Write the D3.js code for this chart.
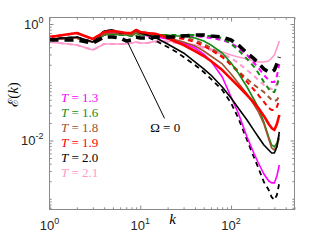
<!DOCTYPE html>
<html>
<head>
<meta charset="utf-8">
<script src="https://cdn.jsdelivr.net/npm/d3@7"></script>
<style>
body { margin: 0; background: #fff; }
svg { display: block; }
</style>
</head>
<body>
<svg id="chart"></svg>
<script>
// wavenumbers k
const k_vals = [1, 2, 3, 4, 5, 6, 7, 8, 9, 10, 12, 15, 20, 25, 30, 40, 50, 60, 80, 100,
		120, 150, 180, 200, 230, 260, 280, 300, 320, 340];

// E(k), solid curves
const e13_solid = [0.553, 0.575, 0.491, 0.701, 0.729, 0.701, 0.674, 0.674, 0.729, 0.674,
		   0.622, 0.598, 0.553, 0.511, 0.472, 0.387, 0.305, 0.232, 0.123, 0.0559,
		   0.0297, 0.0115, 0.00587, 0.00411, 0.00266, 0.00202, 0.00187, 0.00187, 0.00246, 0.00380];
const e16_solid = [0.553, 0.575, 0.491, 0.647, 0.674, 0.647, 0.647, 0.622, 0.701, 0.647,
		   0.647, 0.647, 0.647, 0.622, 0.622, 0.575, 0.511, 0.436, 0.318, 0.214,
		   0.144, 0.0829, 0.0496, 0.0362, 0.0208, 0.0115, 0.00838, 0.00775, 0.00906, 0.0124];
const e18_solid = [0.553, 0.575, 0.491, 0.674, 0.701, 0.674, 0.674, 0.647, 0.729, 0.674,
		   0.674, 0.647, 0.598, 0.531, 0.491, 0.419, 0.344, 0.282, 0.206, 0.139,
		   0.0971, 0.0629, 0.0407, 0.0309, 0.0192, 0.0106, 0.00745, 0.00687, 0.00806, 0.0110];
const e19_solid = [0.598, 0.701, 0.553, 0.729, 0.758, 0.729, 0.701, 0.701, 0.789, 0.729,
		   0.701, 0.674, 0.575, 0.491, 0.436, 0.344, 0.282, 0.232, 0.162, 0.114,
		   0.0862, 0.0604, 0.0441, 0.0362, 0.0264, 0.0192, 0.0164, 0.0151, 0.0192, 0.0274];
const e20_solid = [0.553, 0.598, 0.491, 0.758, 0.789, 0.701, 0.701, 0.701, 0.789, 0.701,
		   0.647, 0.575, 0.454, 0.372, 0.318, 0.223, 0.169, 0.133, 0.0829, 0.0537,
		   0.0362, 0.0225, 0.0146, 0.0115, 0.00838, 0.00687, 0.00611, 0.00611, 0.00775, 0.0140];
const e21_solid = [0.491, 0.436, 0.358, 0.454, 0.454, 0.454, 0.454, 0.472, 0.491, 0.472,
		   0.472, 0.511, 0.511, 0.491, 0.472, 0.436, 0.403, 0.372, 0.331, 0.294,
		   0.271, 0.251, 0.232, 0.223, 0.223, 0.232, 0.261, 0.294, 0.387, 0.511];

// E(k), dashed curves
const e13_dash = [0.553, 0.575, 0.491, 0.701, 0.729, 0.701, 0.674, 0.674, 0.729, 0.674,
		  0.647, 0.622, 0.622, 0.622, 0.622, 0.622, 0.598, 0.575, 0.531, 0.472,
		  0.387, 0.294, 0.214, 0.176, 0.133, 0.109, 0.101, 0.101, 0.128, 0.206];
const e16_dash = [0.553, 0.575, 0.491, 0.647, 0.674, 0.647, 0.647, 0.622, 0.701, 0.647,
		  0.647, 0.647, 0.647, 0.647, 0.647, 0.647, 0.622, 0.622, 0.575, 0.454,
		  0.358, 0.251, 0.183, 0.144, 0.101, 0.0766, 0.0680, 0.0680, 0.0862, 0.128];
const e18_dash = [0.553, 0.575, 0.491, 0.674, 0.701, 0.674, 0.674, 0.647, 0.729, 0.674,
		  0.674, 0.647, 0.622, 0.598, 0.575, 0.531, 0.454, 0.387, 0.282, 0.206,
		  0.156, 0.114, 0.0897, 0.0797, 0.0680, 0.0559, 0.0496, 0.0477, 0.0496, 0.0581];
const e19_dash = [0.598, 0.701, 0.553, 0.729, 0.758, 0.729, 0.701, 0.701, 0.789, 0.729,
		  0.701, 0.674, 0.622, 0.575, 0.553, 0.491, 0.419, 0.358, 0.271, 0.198,
		  0.150, 0.101, 0.0736, 0.0604, 0.0459, 0.0362, 0.0334, 0.0334, 0.0377, 0.0496];
const e20_dash = [0.553, 0.598, 0.491, 0.758, 0.789, 0.701, 0.701, 0.701, 0.789, 0.701,
		  0.598, 0.511, 0.403, 0.331, 0.271, 0.198, 0.150, 0.114, 0.0736, 0.0441,
		  0.0244, 0.0102, 0.00501, 0.00338, 0.00194, 0.00141, 0.00107, 0.000952, 0.00116, 0.00187];
const e21_dash = [0.491, 0.436, 0.358, 0.454, 0.454, 0.454, 0.454, 0.472, 0.491, 0.472,
		  0.472, 0.491, 0.491, 0.472, 0.454, 0.419, 0.387, 0.358, 0.305, 0.261,
		  0.214, 0.162, 0.128, 0.109, 0.0897, 0.0797, 0.0766, 0.0797, 0.0933, 0.118];

// Omega = 0 reference
const e_omega0 = [0.531, 0.531, 0.472, 0.598, 0.598, 0.575, 0.511, 0.531, 0.598, 0.575,
		  0.575, 0.598, 0.598, 0.598, 0.622, 0.647, 0.647, 0.622, 0.598, 0.531,
		  0.436, 0.318, 0.251, 0.214, 0.169, 0.150, 0.150, 0.162, 0.206, 0.271];

const temps = ['1.3', '1.6', '1.8', '1.9', '2.0', '2.1'];
const colors = ['#ff00ff', '#168c16', '#a0522d', '#ff0000', '#000000', '#ff99cc'];

const x_major = [1, 10, 100];
const y_major = [1e-2, 1];

// annotation: from point on curve to label
const omega_from = [7.2, 0.5];
const omega_to = [18.5, 0.024];
const omega_text_at = [18.8, 0.0142];


class SpectrumChart {

    constructor( config ){
	this.config = {
	    parent: config.parent,
	    width: config.width || 320,
	    height: config.height || 240,
	    left: 49.5, right: 294.5, top: 17.5, bottom: 209.5
	}
	this.init();
    }

    init() {
	let self = this;
	let c = self.config;

	self.svg = d3.select( c.parent )
	    .attr('width', c.width)
	    .attr('height', c.height);

	self.xscale = d3.scaleLog()
	    .domain([1, 500])
	    .range([c.left, c.right]);

	self.yscale = d3.scaleLog()
	    .domain([6.54e-4, 1.293])
	    .range([c.bottom, c.top]);

	self.line = d3.line()
	    .x((d, i) => self.xscale(k_vals[i]))
	    .y(d => self.yscale(d));

	self.svg.append('defs').append('clipPath')
	    .attr('id', 'clip')
	    .append('rect')
	    .attr('x', c.left).attr('y', c.top)
	    .attr('width', c.right - c.left)
	    .attr('height', c.bottom - c.top);

	let minors = (lo, hi) => {
	    let out = [];
	    for (let e = lo; e <= hi; e++)
		for (let m = 1; m < 10; m++) out.push(m * Math.pow(10, e));
	    return out;
	};
	self.x_minor = minors(0, 2).filter(v => v <= 500 && !x_major.includes(v));
	self.y_minor = minors(-4, 0).filter(v => v >= 6.54e-4 && v <= 1.293)
	    .filter(v => !y_major.some(m => Math.abs(m - v) / m < 1e-6));

	self.series = [
	    { v: e21_solid, color: colors[5], w: 1.6, dash: null },
	    { v: e21_dash, color: colors[5], w: 2, dash: '5,4' },
	    { v: e13_dash, color: colors[0], w: 2, dash: '5,4' },
	    { v: e16_dash, color: colors[1], w: 2, dash: '5,4' },
	    { v: e18_dash, color: colors[2], w: 2, dash: '5,4' },
	    { v: e19_dash, color: colors[3], w: 2, dash: '5,4' },
	    { v: e20_dash, color: colors[4], w: 1.8, dash: '5,4' },
	    { v: e13_solid, color: colors[0], w: 1.6, dash: null },
	    { v: e16_solid, color: colors[1], w: 1.6, dash: null },
	    { v: e18_solid, color: colors[2], w: 1.6, dash: null },
	    { v: e20_solid, color: colors[4], w: 1.6, dash: null },
	    { v: e19_solid, color: colors[3], w: 2.6, dash: null },
	    { v: e_omega0, color: '#000', w: 3.6, dash: '9,6' }
	];
    }

    render() {
	let self = this;
	let c = self.config;
	let tickfont = '"Liberation Sans", Arial, sans-serif';
	let serif = '"Liberation Serif", "Times New Roman", serif';

	// curves
	self.svg.append('g')
	    .attr('clip-path', 'url(#clip)')
	    .selectAll('path')
	    .data(self.series)
	    .join('path')
	    .attr('d', d => self.line(d.v))
	    .attr('fill', 'none')
	    .attr('stroke', d => d.color)
	    .attr('stroke-width', d => d.w)
	    .attr('stroke-dasharray', d => d.dash)
	    .attr('stroke-linejoin', 'round');

	// axes, ticks inside on all four sides
	let axes = [
	    [d3.axisBottom, self.xscale, `translate(0,${c.bottom})`, 'x'],
	    [d3.axisTop, self.xscale, `translate(0,${c.top})`, 'x'],
	    [d3.axisLeft, self.yscale, `translate(${c.left},0)`, 'y'],
	    [d3.axisRight, self.yscale, `translate(${c.right},0)`, 'y']
	];
	axes.forEach(([fn, sc, tr, dim]) => {
	    let minor = dim == 'x' ? self.x_minor : self.y_minor;
	    let major = dim == 'x' ? x_major : y_major;
	    [[minor, 2.2], [major, 4]].forEach(([vals, len]) => {
		let g = self.svg.append('g')
		    .attr('transform', tr)
		    .call(fn(sc).tickValues(vals).tickSize(-len).tickFormat(''));
		g.select('.domain').remove();
		g.selectAll('line').attr('stroke', '#8a8a8a');
	    });
	});

	self.svg.append('rect')
	    .attr('x', c.left).attr('y', c.top)
	    .attr('width', c.right - c.left)
	    .attr('height', c.bottom - c.top)
	    .attr('fill', 'none')
	    .attr('stroke', '#8a8a8a');

	// tick labels 10^n
	let exp = d => String(Math.round(Math.log10(d)));
	self.svg.append('g').selectAll('text')
	    .data(x_major)
	    .join('text')
	    .attr('x', d => self.xscale(d))
	    .attr('y', c.bottom + 20)
	    .attr('text-anchor', 'middle')
	    .attr('font-family', tickfont)
	    .attr('font-size', 13)
	    .attr('fill', '#262626')
	    .each(function(d) {
		let t = d3.select(this);
		t.append('tspan').text('10');
		t.append('tspan').attr('dy', -6).attr('font-size', 9).text(exp(d));
	    });

	self.svg.append('g').selectAll('text')
	    .data(y_major)
	    .join('text')
	    .attr('x', c.left - 6)
	    .attr('y', d => self.yscale(d) + 4.5)
	    .attr('text-anchor', 'end')
	    .attr('font-family', tickfont)
	    .attr('font-size', 13)
	    .attr('fill', '#262626')
	    .each(function(d) {
		let t = d3.select(this);
		t.append('tspan').text('10');
		t.append('tspan').attr('dy', -6).attr('font-size', 9).text(exp(d));
	    });

	// axis titles
	let xl = self.svg.append('text')
	    .attr('x', (c.left + c.right) / 2 + 0.5)
	    .attr('y', 224)
	    .attr('text-anchor', 'middle')
	    .attr('font-family', serif)
	    .attr('font-style', 'italic')
	    .attr('font-size', 15)
	    .text('k');

	let yl = self.svg.append('text')
	    .attr('transform', `translate(18,${(c.top + c.bottom) / 2 - 19}) rotate(-90)`)
	    .attr('text-anchor', 'middle')
	    .attr('font-family', serif)
	    .attr('font-size', 15);
	yl.append('tspan').attr('font-family', '"DejaVu Serif", serif').attr('font-size', 14).text('ℰ');
	yl.append('tspan').text('(');
	yl.append('tspan').attr('font-style', 'italic').text('k');
	yl.append('tspan').text(')');

	// legend
	self.svg.append('g').selectAll('text')
	    .data(temps)
	    .join('text')
	    .attr('x', 61)
	    .attr('y', (d, i) => 101.5 + i * 15)
	    .attr('font-family', serif)
	    .attr('font-size', 13)
	    .attr('fill', (d, i) => colors[i])
	    .each(function(d) {
		let t = d3.select(this);
		t.append('tspan').attr('font-style', 'italic').text('T');
		t.append('tspan').text(' = ' + d);
	    });

	// Omega = 0 annotation
	self.svg.append('line')
	    .attr('x1', self.xscale(omega_from[0]))
	    .attr('y1', self.yscale(omega_from[1]))
	    .attr('x2', self.xscale(omega_to[0]))
	    .attr('y2', self.yscale(omega_to[1]))
	    .attr('stroke', '#000')
	    .attr('stroke-width', 1);

	self.svg.append('text')
	    .attr('x', self.xscale(omega_text_at[0]))
	    .attr('y', self.yscale(omega_text_at[1]))
	    .attr('text-anchor', 'middle')
	    .attr('font-family', serif)
	    .attr('font-size', 13)
	    .text('Ω = 0');
    }
}

let chart = new SpectrumChart({ parent: '#chart', width: 320, height: 240 });
chart.render();
</script>
</body>
</html>
